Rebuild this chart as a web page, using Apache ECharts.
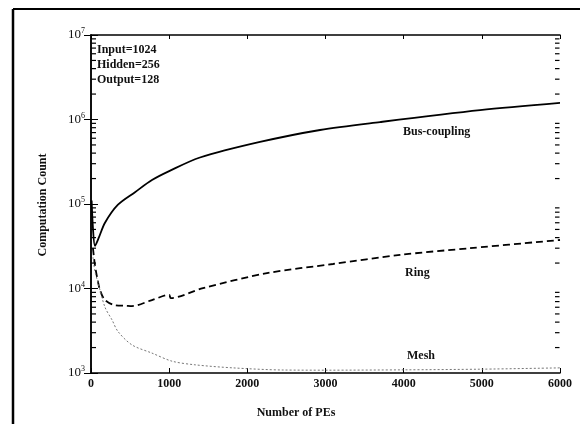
<!DOCTYPE html>
<html>
<head>
    <meta charset="utf-8">
    <title>Computation Count</title>
    <script src="https://cdn.jsdelivr.net/npm/echarts@6/dist/echarts.min.js"></script>
</head>
<body style="margin:0;background:#fff">
    <div id="main" style="width:580px;height:424px"></div>
    <script type="text/javascript">
    // values (x = number of PEs, y = computation count)
    var busX  = [8, 25, 51, 100, 179, 345, 563, 780, 1000, 1394, 2162, 2930, 3697, 4977, 6000];
    var busY  = [110000, 52000, 32000, 40000, 60000, 98000, 138000, 192000, 245000, 355000, 542000, 751000, 933000, 1290000, 1570000];
    var ringX = [25, 50, 77, 115, 179, 307, 450, 524, 780, 1000, 1020, 1433, 2251, 3096, 3953, 4849, 6000];
    var ringY = [30000, 19000, 13700, 9600, 7300, 6350, 6250, 6200, 7300, 8400, 7700, 10100, 15200, 19500, 25000, 30000, 37500];
    var meshX = [25, 50, 90, 179, 269, 345, 524, 780, 1036, 1330, 1816, 2456, 3000, 4000, 5000, 6000];
    var meshY = [23500, 16000, 11700, 6000, 4250, 3100, 2150, 1720, 1380, 1250, 1150, 1085, 1080, 1090, 1110, 1150];
    var minorTicks = [];
    [1000, 10000, 100000, 1000000].forEach(function (d) {
        for (var k = 2; k <= 9; k++) minorTicks.push(d * k);
    });
    var notes = ['Input=1024', 'Hidden=256', 'Output=128'];

    var serif = '"Liberation Serif", "DejaVu Serif", serif';

    function pairs(xs, ys) {
        return xs.map(function (x, i) { return [x, ys[i]]; });
    }

    var myChart = echarts.init(document.getElementById('main'));
    myChart.setOption({
        animation: false,
        backgroundColor: '#fff',
        grid: { left: 91, right: 20, top: 35, bottom: 51 },
        xAxis: [{
            type: 'value', min: 0, max: 6000, interval: 1000, position: 'bottom',
            axisLine: { lineStyle: { color: '#000', width: 1.5 } },
            axisTick: { inside: true, length: 5, lineStyle: { color: '#000' } },
            axisLabel: {
                margin: 5, color: '#111', fontFamily: serif, fontSize: 12, fontWeight: 'bold',
                formatter: function (v) { return String(v); }
            },
            splitLine: { show: false }
        }, {
            type: 'value', min: 0, max: 6000, interval: 1000, position: 'top',
            axisLine: { lineStyle: { color: '#000', width: 1.5 } },
            axisTick: { inside: true, length: 4, lineStyle: { color: '#000' } },
            axisLabel: { show: false },
            splitLine: { show: false }
        }],
        yAxis: [{
            type: 'log', logBase: 10, min: 1000, max: 10000000, position: 'left',
            axisLine: { lineStyle: { color: '#000', width: 1.5 } },
            axisTick: { inside: true, length: 7, lineStyle: { color: '#000' } },
            axisLabel: {
                margin: 6, color: '#111',
                formatter: function (v) {
                    return '{b|10}{s|' + Math.round(Math.log10(v)) + '}';
                },
                rich: {
                    b: { fontFamily: serif, fontSize: 13, lineHeight: 16, color: '#111' },
                    s: { fontFamily: serif, fontSize: 8, lineHeight: 8, verticalAlign: 'top', color: '#111' }
                }
            },
            splitLine: { show: false }
        }, {
            type: 'log', logBase: 10, min: 1000, max: 10000000, position: 'right',
            axisLine: { lineStyle: { color: '#000', width: 1.5 } },
            axisTick: { inside: true, length: 7, lineStyle: { color: '#000' } },
            axisLabel: { show: false },
            splitLine: { show: false }
        }],
        series: [{
            name: 'Bus-coupling', type: 'line', data: pairs(busX, busY),
            smooth: 0.3, symbol: 'none',
            lineStyle: { color: '#000', width: 1.8 }
        }, {
            name: 'Ring', type: 'line', data: pairs(ringX, ringY),
            smooth: 0.3, symbol: 'none',
            lineStyle: { color: '#000', width: 1.8, type: [7, 4] }
        }, {
            name: 'Mesh', type: 'line', data: pairs(meshX, meshY),
            smooth: 0.3, symbol: 'none',
            lineStyle: { color: '#777', width: 1, type: [2, 2] }
        }, {
            // log minor ticks on both vertical axes
            type: 'custom', silent: true, clip: false, z: 5,
            data: minorTicks.map(function (v) { return [3000, v]; }),
            renderItem: function (params, api) {
                var v = api.value(1);
                var l = api.coord([0, v]);
                var r = api.coord([6000, v]);
                return {
                    type: 'group',
                    children: [
                        { type: 'line', shape: { x1: l[0] + 0.5, y1: l[1], x2: l[0] + 5, y2: l[1] }, style: { stroke: '#000', lineWidth: 1.2 } },
                        { type: 'line', shape: { x1: r[0] - 5, y1: r[1], x2: r[0] - 0.5, y2: r[1] }, style: { stroke: '#000', lineWidth: 1.2 } }
                    ]
                };
            }
        }],
        graphic: [
            // outer frame
            { type: 'line', shape: { x1: 13, y1: 9, x2: 580, y2: 9 }, style: { stroke: '#000', lineWidth: 2 } },
            { type: 'line', shape: { x1: 13, y1: 9, x2: 13, y2: 424 }, style: { stroke: '#000', lineWidth: 2.5 } },
            // parameter notes
            { type: 'text', x: 97, y: 50, style: { text: notes[0], font: 'bold 12px ' + serif, fill: '#111', verticalAlign: 'middle' } },
            { type: 'text', x: 97, y: 65, style: { text: notes[1], font: 'bold 12px ' + serif, fill: '#111', verticalAlign: 'middle' } },
            { type: 'text', x: 97, y: 80, style: { text: notes[2], font: 'bold 12px ' + serif, fill: '#111', verticalAlign: 'middle' } },
            // curve labels
            { type: 'text', x: 403, y: 132, style: { text: 'Bus-coupling', font: 'bold 12px ' + serif, fill: '#111', verticalAlign: 'middle' } },
            { type: 'text', x: 405, y: 273, style: { text: 'Ring', font: 'bold 12px ' + serif, fill: '#111', verticalAlign: 'middle' } },
            { type: 'text', x: 407, y: 356, style: { text: 'Mesh', font: 'bold 12px ' + serif, fill: '#111', verticalAlign: 'middle' } },
            // axis titles
            { type: 'text', x: 296, y: 413, style: { text: 'Number of PEs', font: 'bold 12px ' + serif, fill: '#111', align: 'center', verticalAlign: 'middle' } },
            { type: 'text', x: 43, y: 205, rotation: Math.PI / 2, style: { text: 'Computation Count', font: 'bold 12px ' + serif, fill: '#111', align: 'center', verticalAlign: 'middle' } }
        ]
    });
    </script>
</body>
</html>
